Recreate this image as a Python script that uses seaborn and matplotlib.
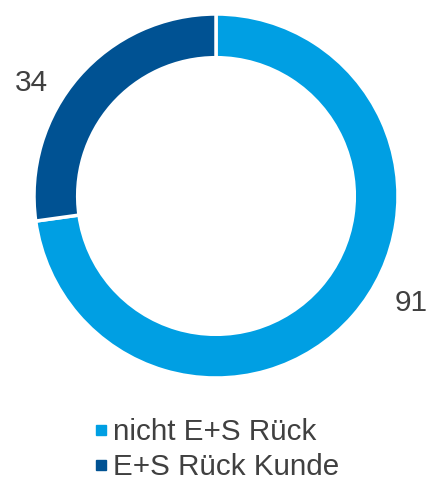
import matplotlib
matplotlib.use("Agg")
import matplotlib.pyplot as plt
import seaborn as sns
from matplotlib.lines import Line2D

categories = ["nicht E+S Rück", "E+S Rück Kunde"]
values = [91, 34]
colors = ["#009FE3", "#005293"]

sns.set_theme(style="white")
plt.rcParams["font.family"] = ["Liberation Sans", "DejaVu Sans"]

fig = plt.figure(figsize=(4.37, 4.83), dpi=100)
W, H = 437, 483
cx, cy, R = 216, 196, 182
ax = fig.add_axes([(cx - R) / W, 1 - (cy + R) / H, 2 * R / W, 2 * R / H])
wedges, _ = ax.pie(values, colors=colors, startangle=90, counterclock=False,
                   radius=1.0, wedgeprops=dict(width=0.24, edgecolor="white", linewidth=2.5))
ax.set_xlim(-1, 1)
ax.set_ylim(-1, 1)
ax.set_aspect("equal")
ax.axis("off")

label_pos = [(1.07, -0.59), (-1.015, 0.62)]
for (x, y), v in zip(label_pos, values):
    ax.text(x, y, str(v), ha="center", va="center", fontsize=21.5, color="#404040", clip_on=False)

handles = [Line2D([0], [0], marker="s", linestyle="none", markersize=7.5,
                  markerfacecolor=c, markeredgecolor=c) for c in colors]
fig.legend(handles, categories, loc="upper left", bbox_to_anchor=(92 / W, 1 - 418 / H),
           frameon=False, fontsize=21.3, labelcolor="#404040", handletextpad=0.12,
           labelspacing=0.25, handlelength=0.6, borderpad=0, borderaxespad=0)

fig.savefig("out.png", dpi=100)
